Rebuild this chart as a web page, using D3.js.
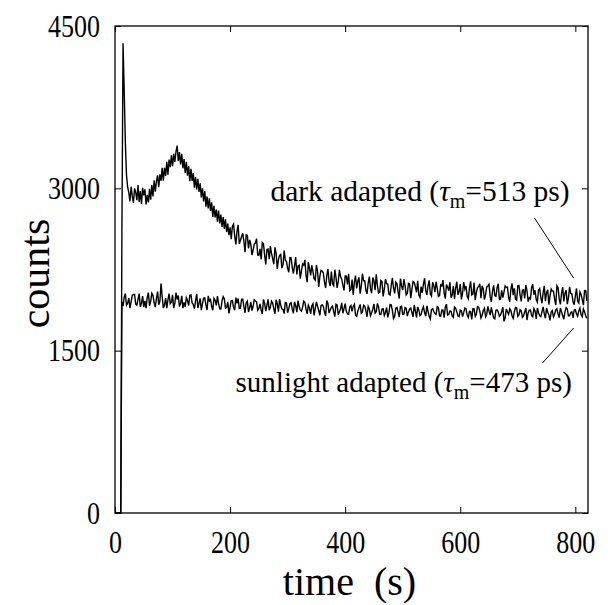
<!DOCTYPE html>
<meta charset="utf-8">

<head>
    <style>
        body { margin: 0; background: #fff; }
        text { font-family: "Liberation Serif", "Times New Roman", serif; fill: #000; }
    </style>
    <!-- Load d3.js -->
    <script src="https://d3js.org/d3.v7.min.js"></script>
</head>

<body>
    <div id="my_dataviz"></div>

    <script>
        // one sample every 2 s, starting at t = 0
        var sampleInterval = 2;

        // dark adapted leaf (counts)
        var darkCounts = [
            0, 0, 0, 0, 0, 0,
            2600, 4340, 3900, 3420, 3120, 3010,
            2960, 2880, 3015, 2930, 2865, 3000, 2965, 2890, 3030, 2875,
            2975, 2855, 3005, 2935, 2990, 2850, 2940, 2870, 2995, 2895,
            3030, 2925, 3075, 2970, 3065, 3120, 3010, 3130, 3070, 3190,
            3070, 3190, 3115, 3245, 3125, 3265, 3195, 3305, 3205, 3320,
            3245, 3340, 3395, 3250, 3335, 3220, 3320, 3185, 3270, 3142,
            3245, 3117, 3205, 3065, 3180, 3068, 3142, 3006, 3105, 2989,
            3088, 2967, 3046, 2915, 3000, 2880, 2975, 2830, 2925, 2814,
            2908, 2792, 2871, 2735, 2838, 2731, 2804, 2692, 2795, 2676,
            2757, 2643, 2734, 2625, 2713, 2596, 2674, 2567, 2640,
            2530, 2650, 2669, 2560, 2482, 2600, 2663, 2485, 2520, 2555,
            2585, 2510, 2409, 2570, 2564, 2445, 2523, 2485, 2384, 2430,
            2482, 2495, 2535, 2385, 2381, 2440, 2344, 2500, 2487, 2385,
            2297, 2435, 2440, 2345, 2466, 2400, 2348, 2300, 2455, 2400,
            2256, 2340, 2381, 2390, 2263, 2295, 2424, 2335, 2324, 2260,
            2224, 2360, 2358, 2270, 2213, 2285, 2365, 2205, 2283, 2290,
            2166, 2237, 2302, 2289, 2339, 2196, 2133, 2318, 2260, 2195,
            2288, 2233, 2165, 2151, 2292, 2234, 2088, 2187, 2242, 2235,
            2218, 2135, 2079, 2190, 2253, 2140, 2096, 2230, 2117, 2100,
            2248, 2180, 2080, 2140, 2247, 2185, 2160, 2105, 2057, 2190,
            2188, 2112, 2211, 2054, 2065, 2156, 2016, 2133, 2194, 2075,
            2145, 2177, 2026, 2099, 2211, 2146, 2146, 2058, 2025, 2125,
            2185, 2073, 2030, 2176, 2145, 2059, 2206, 2102, 2033, 2040,
            2148, 2138, 2002, 2066, 2162, 2119, 2115, 2022, 2014, 2100,
            2174, 2079, 2029, 2133, 2118, 2042, 1982, 2166, 2098, 2060,
            2160, 2104, 2015, 2028, 2122, 2117, 1986, 2066, 2138, 2130,
            2092, 2039, 2145, 2013, 1991, 2092, 2035, 2116, 2169, 2055,
            2015, 2099, 2149, 2023, 2004, 2132, 2102, 2041, 2137, 2075,
            2001, 2009, 2108, 2098, 2152, 2032, 1980, 2111, 2087, 2055,
            2131, 1989, 2013, 2098, 1976, 2077, 2137, 2016, 2046, 2115,
            1973, 2034, 2134, 2068, 2097, 2002, 1979, 2081, 2140, 2015,
            2022, 2129, 1967, 2038, 2083, 2092, 2118, 1986, 2099, 2070,
            1972, 2019, 2088, 2098, 2114, 1997, 1951, 2051, 2103, 2010,
            2003, 2079, 2119, 1973, 1974, 2057, 1991, 2041, 2098, 2085,
            2088, 1994, 1952, 2068, 2122, 2012, 2076, 1976, 1967, 2100,
            2101, 2014, 1956, 2058, 2063, 1982, 2107, 2051, 1953, 1990,
            1979, 2084, 2113, 2018, 2058, 1972, 1949, 2061, 2074, 1995,
            1938, 2034, 2099, 1958, 2035, 2062, 1926, 2006, 2069, 2050,
            2050, 1973, 1922, 2101, 2082, 1979, 1927, 2027, 2087, 1955,
            2031, 2058, 1930, 1986, 2090, 2029, 2025, 1952, 1924, 2005,
            2076, 1959, 1940, 2043, 2020, 1972, 1920, 2056, 2054, 1960
        ];

        // sunlight adapted leaf (counts)
        var sunCounts = [
            0, 0, 0, 0, 0, 0, 1950,
            1911, 1995, 2028, 1920, 1938, 1985, 1893, 1950, 2010, 2020,
            2019, 1930, 1920, 1975, 2028, 1905, 1938, 2005, 1902, 1960,
            1893, 1990, 2037, 1915, 1956, 2030, 2010, 1945, 1902, 1980,
            2046, 1925, 1956, 2120, 2001, 1895, 1920, 1985, 1893, 1970,
            2028, 1935, 1947, 2015, 1893, 1938, 2037, 1973, 2010, 1907,
            1938, 2007, 1893, 1946, 1906, 1989, 1963, 1917, 2011, 2015,
            1941, 1928, 1889, 1961, 2025, 1894, 1937, 1982, 1875, 1935,
            1985, 1988, 1924, 1876, 2006, 1959, 1972, 1907, 1874, 1985,
            1966, 1918, 2004, 1936, 1887, 1885, 1960, 1999, 1979, 1892,
            1898, 1951, 1844, 1905, 1962, 1964, 1900, 1873, 1990, 1937,
            1982, 1891, 1893, 1975, 1975, 1909, 1850, 1943, 1958, 1857,
            1896, 1951, 1870, 1910, 1970, 1959, 1953, 1873, 1890, 1932,
            1873, 1841, 1973, 1940, 1866, 1919, 1975, 1873, 1903, 1957,
            1940, 1886, 1841, 1971, 1932, 1860, 1977, 1920, 1887, 1880,
            1842, 1945, 1941, 1850, 1888, 1934, 1943, 1883, 1844, 1952,
            1917, 1856, 1963, 1910, 1874, 1864, 1902, 1958, 1947, 1882,
            1840, 1921, 1895, 1840, 1914, 1934, 1825, 1888, 1951, 1912,
            1871, 1826, 1917, 1925, 1909, 1859, 1820, 1963, 1937, 1847,
            1875, 1901, 1912, 1860, 1814, 1929, 1923, 1833, 1860, 1887,
            1942, 1846, 1889, 1935, 1863, 1839, 1836, 1904, 1918, 1863,
            1909, 1928, 1828, 1817, 1865, 1896, 1928, 1846, 1857, 1920,
            1911, 1870, 1813, 1909, 1886, 1823, 1850, 1883, 1931, 1847,
            1859, 1937, 1905, 1836, 1834, 1885, 1888, 1825, 1853, 1899,
            1808, 1849, 1926, 1923, 1872, 1797, 1818, 1892, 1900, 1856,
            1810, 1906, 1910, 1835, 1838, 1899, 1893, 1819, 1858, 1883,
            1894, 1853, 1813, 1922, 1867, 1807, 1904, 1876, 1824, 1836,
            1878, 1905, 1852, 1819, 1915, 1864, 1817, 1793, 1880, 1888,
            1862, 1843, 1836, 1907, 1899, 1821, 1819, 1876, 1874, 1805,
            1901, 1930, 1830, 1835, 1866, 1864, 1821, 1808, 1903, 1893,
            1858, 1820, 1814, 1875, 1869, 1815, 1851, 1894, 1888, 1829,
            1807, 1863, 1861, 1788, 1888, 1888, 1817, 1837, 1907, 1902,
            1863, 1801, 1827, 1871, 1891, 1815, 1837, 1910, 1865, 1829,
            1901, 1849, 1802, 1793, 1874, 1878, 1857, 1817, 1830, 1862,
            1903, 1771, 1804, 1886, 1859, 1836, 1886, 1870, 1823, 1799,
            1860, 1899, 1896, 1818, 1831, 1878, 1867, 1808, 1822, 1858,
            1894, 1783, 1849, 1874, 1876, 1824, 1813, 1889, 1867, 1794,
            1894, 1850, 1822, 1815, 1858, 1905, 1840, 1800, 1894, 1855,
            1831, 1780, 1858, 1871, 1813, 1836, 1876, 1886, 1840, 1806,
            1894, 1861, 1822, 1791, 1858, 1897, 1885, 1822, 1822, 1852,
            1858, 1802, 1876, 1878, 1840, 1818, 1867, 1893, 1831, 1813,
            1885, 1859, 1822, 1800
        ];

        var xTicks = [0, 200, 400, 600, 800];
        var yTicks = [0, 1500, 3000, 4500];
        var xDomain = [0, 822];
        var yDomain = [0, 4500];

        // labels: text, where the text ends (t, counts), leader line from/to (t, counts)
        var labelNames = ["dark adapted (", "sunlight adapted ("];
        var labelTau = ["513 ps)", "473 ps)"];
        var labelAt = [[790, 2885], [794, 1120]];
        var leaderFrom = [[729, 2726], [743, 1386]];
        var leaderTo = [[797, 2171], [797, 1709]];

        var margin = { top: 26, right: 20, bottom: 92, left: 115 },
            width = 608 - margin.left - margin.right,
            height = 605 - margin.top - margin.bottom;

        var svg = d3.select("#my_dataviz")
            .append("svg")
            .attr("width", 608)
            .attr("height", 605)
            .append("g")
            .attr("transform", "translate(" + margin.left + "," + margin.top + ")");

        var x = d3.scaleLinear().domain(xDomain).range([0, width]);
        var y = d3.scaleLinear().domain(yDomain).range([height, 0]);

        // tall, narrow digits like the original typesetting
        function styleTickText(g) {
            g.selectAll("text")
                .attr("font-size", 32)
                .attr("font-family", "Liberation Serif")
                .attr("textLength", function (d) { return String(d).length * 13; })
                .attr("lengthAdjust", "spacingAndGlyphs");
        }

        // inward ticks on all four sides, labels only bottom/left
        svg.append("g")
            .attr("transform", "translate(0," + height + ")")
            .call(d3.axisBottom(x).tickValues(xTicks).tickFormat(d3.format("d"))
                .tickSizeInner(-6).tickSizeOuter(0).tickPadding(17))
            .call(styleTickText);
        svg.append("g")
            .call(d3.axisTop(x).tickValues(xTicks).tickSizeInner(-6).tickSizeOuter(0).tickFormat(""));
        svg.append("g")
            .call(d3.axisLeft(y).tickValues(yTicks).tickFormat(d3.format("d"))
                .tickSizeInner(-6).tickSizeOuter(0).tickPadding(15))
            .call(styleTickText);
        svg.append("g")
            .attr("transform", "translate(" + width + ",0)")
            .call(d3.axisRight(y).tickValues(yTicks).tickSizeInner(-6).tickSizeOuter(0).tickFormat(""));
        svg.selectAll(".domain").remove();

        svg.append("rect")
            .attr("width", width)
            .attr("height", height)
            .attr("fill", "none")
            .attr("stroke", "#000")
            .attr("stroke-width", 1.3);

        var line = d3.line()
            .x(function (d, i) { return x(i * sampleInterval); })
            .y(function (d) { return y(d); });

        [sunCounts, darkCounts].forEach(function (series) {
            svg.append("path")
                .datum(series)
                .attr("fill", "none")
                .attr("stroke", "#000")
                .attr("stroke-width", 1.4)
                .attr("d", line);
        });

        // labels with tau_m
        var labelSize = [29.5, 29];
        labelNames.forEach(function (name, i) {
            var t = svg.append("text")
                .attr("x", x(labelAt[i][0]))
                .attr("y", y(labelAt[i][1]))
                .attr("text-anchor", "end")
                .attr("font-size", labelSize[i]);
            t.append("tspan").text(name);
            t.append("tspan").attr("font-style", "italic").text("\u03C4");
            t.append("tspan").attr("font-size", 20).attr("dy", 7).text("m");
            t.append("tspan").attr("dy", -7).text("=" + labelTau[i]);

            svg.append("line")
                .attr("x1", x(leaderFrom[i][0]))
                .attr("y1", y(leaderFrom[i][1]))
                .attr("x2", x(leaderTo[i][0]))
                .attr("y2", y(leaderTo[i][1]))
                .attr("stroke", "#000")
                .attr("stroke-width", 1);
        });

        // axis titles
        svg.append("text")
            .attr("x", width / 2 - 2)
            .attr("y", height + 82)
            .attr("text-anchor", "middle")
            .attr("font-size", 40)
            .attr("xml:space", "preserve")
            .text("time  (s)");

        svg.append("text")
            .attr("transform", "translate(" + (-66) + "," + (height / 2 + 4) + ") rotate(-90)")
            .attr("text-anchor", "middle")
            .attr("font-size", 42)
            .text("counts");
    </script>
</body>
